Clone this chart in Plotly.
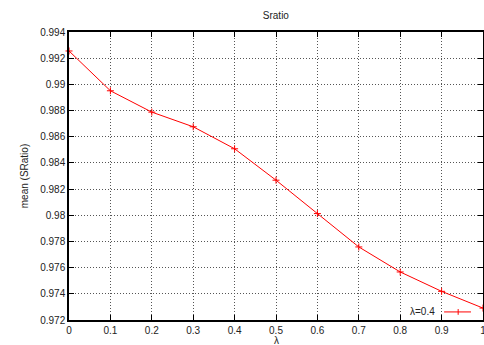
import plotly.graph_objects as go

lam = [0, 0.1, 0.2, 0.3, 0.4, 0.5, 0.6, 0.7, 0.8, 0.9, 1.0]
sratio = [0.99255, 0.98951, 0.98788, 0.98676, 0.98508, 0.98268, 0.98013,
          0.97758, 0.97567, 0.97419, 0.97291]
xtick_vals = [0, 0.1, 0.2, 0.3, 0.4, 0.5, 0.6, 0.7, 0.8, 0.9, 1.0]
xtick_text = ["0", "0.1", "0.2", "0.3", "0.4", "0.5", "0.6", "0.7", "0.8", "0.9", "1"]
ytick_vals = [0.972, 0.974, 0.976, 0.978, 0.98, 0.982, 0.984, 0.986, 0.988, 0.99, 0.992, 0.994]
ytick_text = ["0.972", "0.974", "0.976", "0.978", "0.98", "0.982", "0.984", "0.986",
              "0.988", "0.99", "0.992", "0.994"]

FONT = "Liberation Sans, Arial, Helvetica, sans-serif"

fig = go.Figure()
fig.add_trace(go.Scatter(
    x=lam, y=sratio, mode="lines+markers", name="λ=0.4",
    line=dict(color="#ff0000", width=1),
    marker=dict(symbol="cross-thin", size=5, line=dict(color="#ff0000", width=1)),
    showlegend=False, cliponaxis=False,
))

axis_common = dict(
    showline=True, linecolor="black", linewidth=1.5, mirror="ticks",
    ticks="inside", ticklen=5, tickcolor="black",
    showgrid=True, gridcolor="#555555", griddash="1px,2px", gridwidth=1,
    zeroline=False, tickfont=dict(family=FONT, size=10, color="#222"),
    ticklabeloverflow="allow", automargin=False,
)

fig.update_xaxes(range=[0, 1], tickvals=xtick_vals, ticktext=xtick_text, **axis_common)
fig.update_yaxes(range=[0.972, 0.994], tickvals=ytick_vals, ticktext=ytick_text,
                 title=dict(text="mean (SRatio)", font=dict(family=FONT, size=10, color="#222"), standoff=10),
                 **axis_common)

# x-axis title
fig.add_annotation(xref="paper", yref="paper", x=0.5, y=-0.045, text="λ",
                   showarrow=False, xanchor="center", yanchor="top",
                   font=dict(family=FONT, size=10, color="#222"))

# legend (text left of sample, gnuplot style)
fig.add_annotation(xref="paper", yref="paper", x=0.889, y=0.028, text="λ=0.4",
                   showarrow=False, xanchor="right", yanchor="middle",
                   font=dict(family=FONT, size=10, color="#222"))
fig.add_shape(type="line", xref="paper", yref="paper", x0=0.906, x1=0.971, y0=0.028, y1=0.028,
              line=dict(color="#ff0000", width=1))
fig.add_shape(type="line", xref="paper", yref="paper", x0=0.940, x1=0.940, y0=0.018, y1=0.038,
              line=dict(color="#ff0000", width=1))

fig.update_layout(
    width=484, height=345,
    margin=dict(l=69, r=1, t=32, b=25),
    paper_bgcolor="white", plot_bgcolor="white",
    title=dict(text="Sratio", x=0.57, xanchor="center", y=0.955, yanchor="middle",
               font=dict(family=FONT, size=10, color="#222")),
)

fig.write_html("out.html")
